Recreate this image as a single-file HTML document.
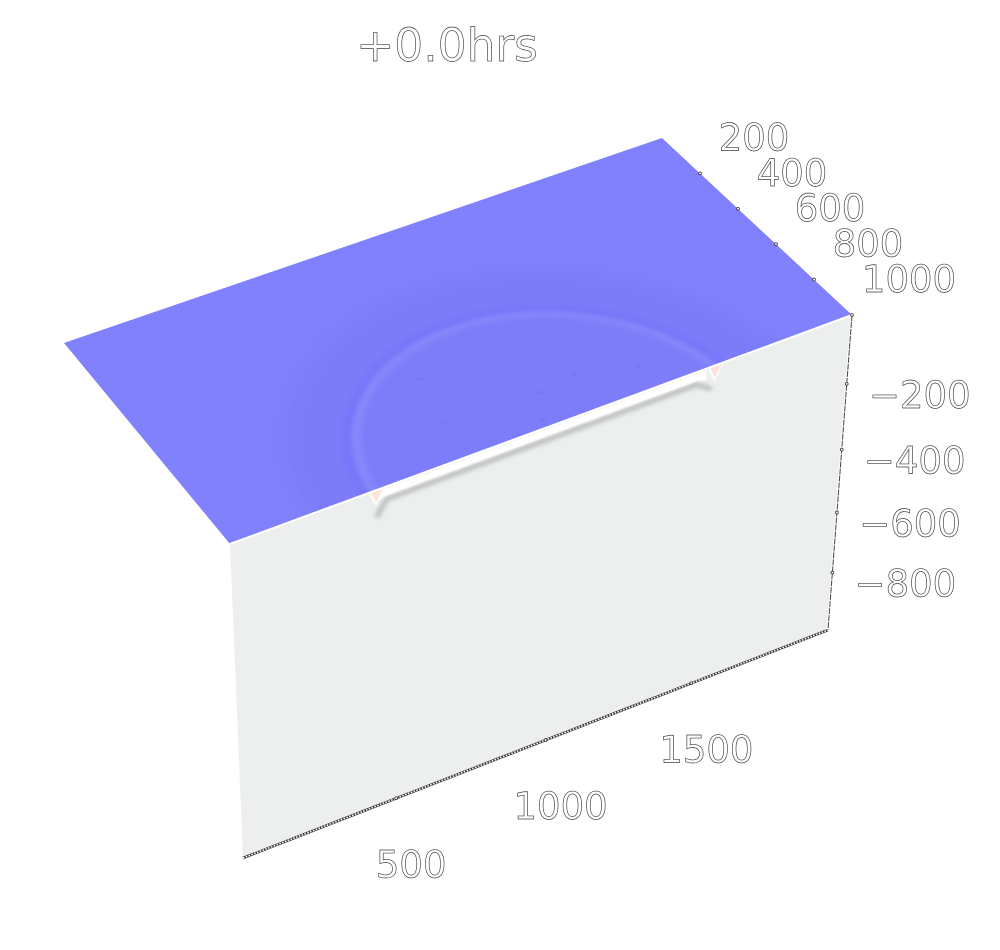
<!DOCTYPE html>
<html lang="en">
<head>
<meta charset="utf-8">
<title>+0.0hrs</title>
<style>
  html, body { margin: 0; padding: 0; background: #fff; }
  svg { display: block; }
  text { font-family: "DejaVu Sans", "Liberation Sans", sans-serif; fill: #fff; stroke: #3c3c3c; stroke-width: 0.65px; }
</style>
</head>
<body>
<svg id="chart" xmlns="http://www.w3.org/2000/svg" width="1000" height="950" viewBox="0 0 1000 950">
  <defs>
    <clipPath id="top-clip"><polygon id="top-clip-shape" points="64,343 662,138 852,315 230,544"></polygon></clipPath>
    <clipPath id="front-clip"><polygon id="front-clip-shape" points="230,544 852,315 828,630 243,858"></polygon></clipPath>
    <filter id="soft" x="-10%" y="-10%" width="120%" height="120%"><feGaussianBlur stdDeviation="2.4"></feGaussianBlur></filter>
    <filter id="soft-small" x="-10%" y="-50%" width="120%" height="200%"><feGaussianBlur stdDeviation="0.8"></feGaussianBlur></filter>
    <filter id="soft-shadow" x="-10%" y="-50%" width="120%" height="200%"><feGaussianBlur stdDeviation="2.2"></feGaussianBlur></filter>
  </defs>
  <text x="447" y="61" font-size="45.5" text-anchor="middle">+0.0hrs</text>
  <polygon id="top-face" fill="#8181fe"></polygon>
  <g id="rings" clip-path="url(#top-clip)"></g>
  <polygon id="front-face" fill="#edefef"></polygon>
  <g id="plume" clip-path="url(#front-clip)"></g>
  <g id="axes"></g>
</svg>
<script>
// Axis tick values
const xTicks = [500, 1000, 1500];
const yTicks = [200, 400, 600, 800, 1000];
const zTicks = [-200, -400, -600, -800];
// Axis extents
const xMax = 1980;
const yMax = 1000;
const zMax = 1000;
// Radial surface anomaly profile
const ringCentreX = 981;
const ringCentreY = 1060;
const ringStretchY = 1.07;
const ringRadii = [780, 758, 730, 690, 645, 605, 584, 570, 560, 550, 540, 528];
const ringValues = [0.25, 0.23, 0.21, 0.19, 0.19, 0.17, 0.11, 0.07, 0.26, 0.42, 0.31, 0.21];
// Small surface specks
const speckX = [1170, 1050, 1340, 990, 790, 750];
const speckY = [830, 855, 894, 967, 630, 833];
// Front section feature
const bandX = [445, 475, 1470, 1500];
const bandTop = [6, 5, 5, 6];
const bandBottom = [36, 26, 26, 34];
const shadowX = [448, 480, 1470, 1520];
const shadowDepth = [78, 36, 36, 66];
const warmX = [450, 1530];

const svg = document.getElementById('chart');
const NS = 'http://www.w3.org/2000/svg';

function persp(t, a) { return (1 + a) * t / (1 + a * t); }
function mix(a, b, t) { return a + (b - a) * t; }
function lerp2(p, q, t) { return [mix(p[0], q[0], t), mix(p[1], q[1], t)]; }

// Plan-view and section corners
const topBackLeft = [64, 343], topBackRight = [662, 138], topFrontRight = [852, 315], topFrontLeft = [230, 544];
const botLeft = [243, 858], botRight = [828, 630];

function xFrac(x) { return persp(x / xMax, 0.05); }
function zFrac(z) { return persp(-z / zMax, 0.12); }
function planPoint(x, y) {
  const u = xFrac(x), v = y / yMax;
  return lerp2(lerp2(topBackLeft, topBackRight, u), lerp2(topFrontLeft, topFrontRight, u), v);
}
function sectionPoint(x, z) {
  const u = xFrac(x), w = zFrac(z);
  return lerp2(lerp2(topFrontLeft, topFrontRight, u), lerp2(botLeft, botRight, u), w);
}
function pts(list) { return list.map(function (p) { return p[0].toFixed(1) + ',' + p[1].toFixed(1); }).join(' '); }
function colorFor(v) {
  const r = Math.round(mix(112, 176, v)), b = Math.round(mix(248, 254, v));
  return 'rgb(' + r + ',' + r + ',' + b + ')';
}

document.getElementById('top-face').setAttribute('points', pts([planPoint(0, 0), planPoint(xMax, 0), planPoint(xMax, yMax), planPoint(0, yMax)]));
document.getElementById('front-face').setAttribute('points', pts([sectionPoint(0, 0), sectionPoint(xMax, 0), sectionPoint(xMax, -zMax), sectionPoint(0, -zMax)]));

// Rings, painted from the outermost disc inward
const ringsGroup = document.createElementNS(NS, 'g');
ringsGroup.setAttribute('filter', 'url(#soft)');


document.getElementById('rings').appendChild(ringsGroup);
ringRadii.forEach(function (r, i) {
  const outline = [];
  for (let k = 0; k < 120; k++) {
    const a = k / 120 * Math.PI * 2;
    outline.push(planPoint(ringCentreX + r * Math.cos(a), ringCentreY + r * ringStretchY * Math.sin(a)));
  }
  const disc = document.createElementNS(NS, 'polygon');
  disc.setAttribute('points', pts(outline));
  disc.setAttribute('fill', colorFor(ringValues[i]));
  
  
  ringsGroup.appendChild(disc);
});
speckX.forEach(function (x, i) {
  const p = planPoint(x, speckY[i]);
  const speck = document.createElementNS(NS, 'ellipse');
  speck.setAttribute('cx', p[0]);
  speck.setAttribute('cy', p[1]);
  speck.setAttribute('rx', 4);
  speck.setAttribute('ry', 2);
  speck.setAttribute('fill', '#7272f8');
  speck.setAttribute('opacity', '0.5');
  
  
  document.getElementById('rings').appendChild(speck);
});

// Section feature
const plume = document.getElementById('plume');
const shadowLine = document.createElementNS(NS, 'polyline');
shadowLine.setAttribute('points', pts(shadowX.map(function (x, i) { return sectionPoint(x, -shadowDepth[i]); })));
shadowLine.setAttribute('fill', 'none');
shadowLine.setAttribute('stroke', '#bcbebe');
shadowLine.setAttribute('stroke-width', '5');
shadowLine.setAttribute('filter', 'url(#soft-shadow)');


plume.appendChild(shadowLine);
const bandPoly = bandX.map(function (x, i) { return sectionPoint(x, -bandTop[i]); })
  .concat(bandX.map(function (x, i) { return sectionPoint(x, -bandBottom[i]); }).reverse());
const band = document.createElementNS(NS, 'polygon');
band.setAttribute('points', pts(bandPoly));
band.setAttribute('fill', '#ffffff');
band.setAttribute('filter', 'url(#soft-small)');


plume.appendChild(band);
warmX.forEach(function (x) {
  const halo = document.createElementNS(NS, 'polygon');
  halo.setAttribute('points', pts([sectionPoint(x - 24, -2), sectionPoint(x + 24, -2), sectionPoint(x - 3, -46)]));
  halo.setAttribute('fill', '#ffffff');
  halo.setAttribute('filter', 'url(#soft-small)');
  
  
  plume.appendChild(halo);
  const tri = document.createElementNS(NS, 'polygon');
  tri.setAttribute('points', pts([sectionPoint(x - 18, -3), sectionPoint(x + 20, -3), sectionPoint(x - 2, -34)]));
  tri.setAttribute('fill', '#fbe3da');
  
  
  plume.appendChild(tri);
});

// Axes
const axes = document.getElementById('axes');
function addLine(a, b, stroke, width, dash, name) {
  const l = document.createElementNS(NS, 'line');
  l.setAttribute('x1', a[0]);
  l.setAttribute('y1', a[1]);
  l.setAttribute('x2', b[0]);
  l.setAttribute('y2', b[1]);
  l.setAttribute('stroke', stroke);
  l.setAttribute('stroke-width', width);
  if (dash) l.setAttribute('stroke-dasharray', dash);
  
  
  axes.appendChild(l);
}
addLine(sectionPoint(0, 0), sectionPoint(xMax, 0), '#ffffff', 2, null, 'plane-seam');
addLine(sectionPoint(0, -zMax), sectionPoint(xMax, -zMax), '#3a3a3a', 2.6, null, 'x-axis-line');
addLine(sectionPoint(0, -zMax), sectionPoint(xMax, -zMax), '#ffffff', 1.6, '1.5 1.5', 'x-axis-line-dash');
addLine(sectionPoint(xMax, 0), sectionPoint(xMax, -zMax), '#ffffff', 3, null, 'z-axis-line-halo');
addLine(sectionPoint(xMax, 0), sectionPoint(xMax, -zMax), '#444444', 1, '6 1', 'z-axis-line');

function addTick(p, name) {
  const c = document.createElementNS(NS, 'circle');
  c.setAttribute('cx', p[0]);
  c.setAttribute('cy', p[1]);
  c.setAttribute('r', 1.4);
  c.setAttribute('fill', '#fff');
  c.setAttribute('stroke', '#333');
  c.setAttribute('stroke-width', '0.8');
  
  
  axes.appendChild(c);
}
function addLabel(p, dx, dy, str, name) {
  const t = document.createElementNS(NS, 'text');
  t.setAttribute('x', (p[0] + dx).toFixed(1));
  t.setAttribute('y', (p[1] + dy).toFixed(1));
  t.setAttribute('font-size', '37');
  t.setAttribute('text-anchor', 'middle');
  
  
  t.textContent = str;
  svg.appendChild(t);
}
xTicks.forEach(function (v) {
  const p = sectionPoint(v, -zMax);
  addTick(p, 'x-axis-tick');
  addLabel(p, 15, 79, String(v), 'x-axis-tick-label');
});
yTicks.forEach(function (v) {
  const p = planPoint(xMax, v);
  addTick(p, 'y-axis-tick');
  addLabel(p, v >= 1000 ? 57 : 54, -23, String(v), 'y-axis-tick-label');
});
zTicks.forEach(function (v) {
  const p = sectionPoint(xMax, v);
  addTick(p, 'z-axis-tick');
  addLabel(p, 73, 24, '\u2212' + Math.abs(v), 'z-axis-tick-label');
});
</script>
</body>
</html>
